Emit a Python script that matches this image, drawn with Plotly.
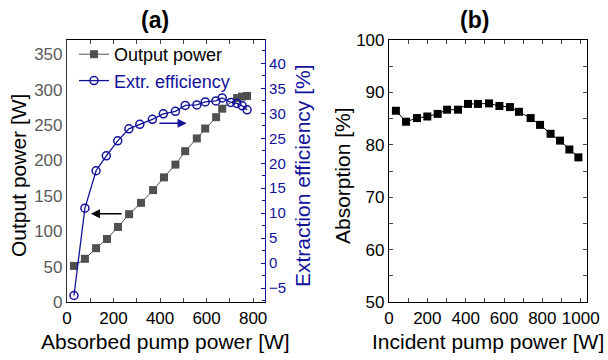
import plotly.graph_objects as go

# ---- data ----
abs_pump = [30, 77, 125, 172, 219, 267, 318, 370, 417, 466, 508, 558, 594, 641, 667, 731, 752, 774]
out_power = [51, 61, 76, 89, 106, 124, 140, 158, 176, 194, 213, 231, 245, 261, 273, 288, 290, 291]

eff_pump = [30, 77, 125, 169, 218, 266, 313, 367, 414, 466, 508, 558, 594, 640, 667, 704, 730, 753, 774]
extr_eff = [-6.5, 11.0, 18.5, 21.5, 24.5, 26.9, 27.8, 28.8, 29.9, 30.4, 31.6, 31.7, 32.3, 32.5, 33.1, 32.2, 32.0, 31.5, 30.7]

inc_pump = [36, 89, 146, 200, 254, 303, 360, 412, 464, 522, 576, 631, 678, 739, 788, 843, 892, 941, 988]
absorption = [86.5, 84.4, 85.1, 85.4, 85.9, 86.7, 86.7, 87.8, 87.8, 87.9, 87.4, 87.2, 86.3, 85.1, 83.8, 82.1, 80.8, 79.1, 77.6]

NAVY = "#12129a"
GRAY = "#505050"
FONT = "Liberation Sans, Arial, sans-serif"

fig = go.Figure()

fig.add_trace(go.Scatter(
    x=abs_pump, y=out_power, name="Output power", mode="lines+markers",
    line=dict(color=GRAY, width=1), marker=dict(symbol="square", size=8, color=GRAY),
    xaxis="x", yaxis="y"))
fig.add_trace(go.Scatter(
    x=eff_pump, y=extr_eff, name="<span style='color:%s'>Extr. efficiency</span>" % NAVY,
    mode="lines+markers",
    line=dict(color=NAVY, width=1.3),
    marker=dict(symbol="circle-open", size=8, color=NAVY, line=dict(width=1.5, color=NAVY)),
    xaxis="x", yaxis="y2"))
fig.add_trace(go.Scatter(
    x=inc_pump, y=absorption, mode="lines+markers", showlegend=False,
    line=dict(color="black", width=1), marker=dict(symbol="square", size=8, color="black"),
    xaxis="x3", yaxis="y3"))

ax_common = dict(showline=True, linecolor="black", linewidth=1.2, showgrid=False, zeroline=False,
                 automargin=False, tickfont=dict(family=FONT, size=17, color="black"))

fig.update_layout(
    width=608, height=360, margin=dict(l=0, r=0, t=0, b=0, autoexpand=False),
    paper_bgcolor="white", plot_bgcolor="white",
    font=dict(family=FONT),
    xaxis=dict(**ax_common, domain=[67/608, 265/608], range=[0, 851], anchor="y",
               tickvals=[0, 200, 400, 600, 800], ticks="inside", ticklen=4, mirror="ticks",
               minor=dict(tickvals=[100, 300, 500, 700], ticks="inside", ticklen=4)),
    yaxis=dict(showline=True, linecolor="#333333", linewidth=1.2, showgrid=False, zeroline=False,
               automargin=False,
               domain=[1-302/360, 1-40/360], range=[0, 370], anchor="x",
               tickvals=[0, 50, 100, 150, 200, 250, 300, 350], ticks="",
               tickfont=dict(family=FONT, size=17, color="#5a5a5a")),
    yaxis2=dict(showline=True, linecolor=NAVY, linewidth=1.2, showgrid=False, zeroline=False,
                automargin=False,
                overlaying="y", side="right", anchor="x", range=[-7.8, 44.7],
                tickvals=[-5, 0, 5, 10, 15, 20, 25, 30, 35, 40], ticks="inside", ticklen=4,
                tickcolor=NAVY,
                minor=dict(tickvals=[-7.5, -2.5, 2.5, 7.5, 12.5, 17.5, 22.5, 27.5, 32.5, 37.5, 42.5],
                           ticks="inside", ticklen=3, tickcolor=NAVY),
                tickfont=dict(family=FONT, size=15, color=NAVY)),
    xaxis3=dict(**ax_common, domain=[389/608, 587/608], range=[0, 1033], anchor="y3",
                tickvals=[0, 200, 400, 600, 800, 1000], ticks="inside", ticklen=4, mirror="ticks",
                minor=dict(tickvals=[100, 300, 500, 700, 900], ticks="inside", ticklen=4)),
    yaxis3=dict(**ax_common, domain=[1-302/360, 1-40/360], range=[50, 100], anchor="x3",
                tickvals=[50, 60, 70, 80, 90, 100], ticks="inside", ticklen=4, mirror="ticks",
                minor=dict(tickvals=[55, 65, 75, 85, 95], ticks="inside", ticklen=4)),
    legend=dict(x=74/608, y=1-36/360, xanchor="left", yanchor="top",
                bgcolor="rgba(0,0,0,0)", font=dict(family=FONT, size=18, color="black"),
                tracegroupgap=0, itemwidth=30),
    showlegend=True,
)

def lab(text, x, y, size=21, color="black", angle=0):
    return dict(text=text, x=x/608, y=1-y/360, xref="paper", yref="paper", showarrow=False,
                xanchor="center", yanchor="middle", textangle=angle,
                font=dict(family=FONT, size=size, color=color))

annotations = [
    lab("<b>(a)</b>", 155, 20, size=23),
    lab("<b>(b)</b>", 474, 20, size=23),
    lab("Absorbed pump power [W]", 165, 341),
    lab("Incident pump power [W]", 488, 341),
    lab("Output power [W]", 18, 176, angle=-90),
    lab("Extraction efficiency [%]", 302, 176, color=NAVY, angle=-90),
    lab("Absorption [%]", 342, 176, angle=-90),
    # arrows
    dict(x=103, y=124.6, ax=241, ay=124.6, xref="x", yref="y", axref="x", ayref="y",
         showarrow=True, arrowhead=2, arrowsize=1.2, arrowwidth=1.5, arrowcolor="black", text=""),
    dict(x=514, y=28, ax=391, ay=28, xref="x", yref="y2", axref="x", ayref="y2",
         showarrow=True, arrowhead=2, arrowsize=1.2, arrowwidth=1.5, arrowcolor=NAVY, text=""),
]
fig.update_layout(annotations=annotations)

fig.write_html("out.html")
